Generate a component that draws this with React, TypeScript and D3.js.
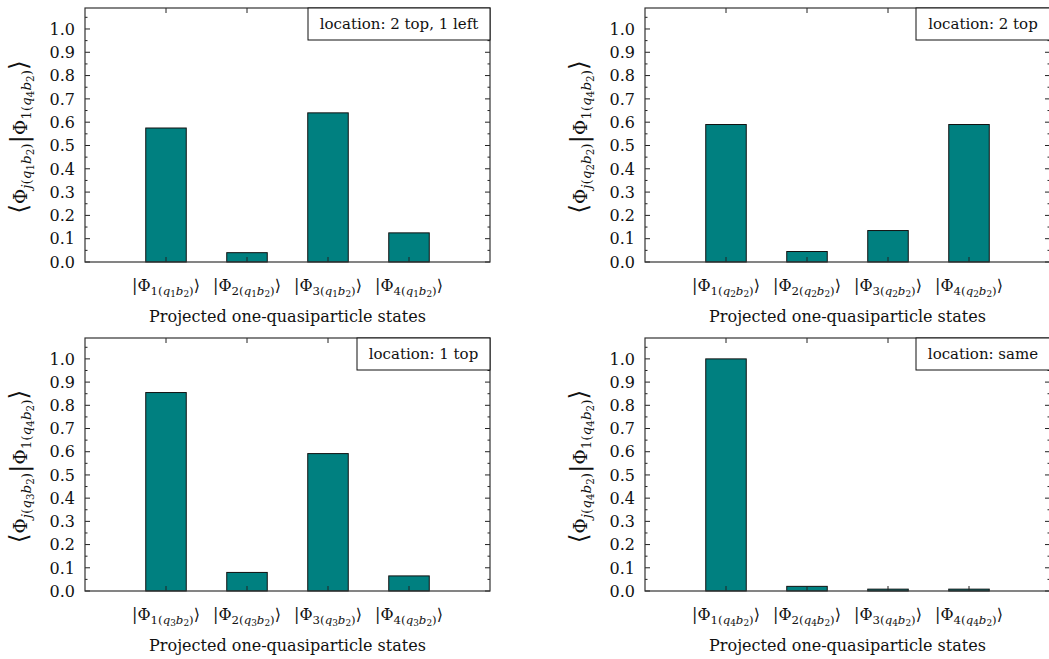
import React from "react";
import * as d3 from "d3";

const categories = [1, 2, 3, 4];
const qIndex = ["1", "2", "3", "4"];
const locations = ["location: 2 top, 1 left", "location: 2 top", "location: 1 top", "location: same"];
const valuesTL = [0.575, 0.04, 0.64, 0.125];
const valuesTR = [0.59, 0.045, 0.135, 0.59];
const valuesBL = [0.855, 0.08, 0.592, 0.065];
const valuesBR = [1.0, 0.02, 0.008, 0.008];
const seriesList = [valuesTL, valuesTR, valuesBL, valuesBR];
const yTicks = [0, 0.1, 0.2, 0.3, 0.4, 0.5, 0.6, 0.7, 0.8, 0.9, 1.0];
const yMinorTicks = d3.range(0.05, 1.09, 0.1);

const FONT = "DejaVu Serif";
const TEAL = "#008080";

type Seg = { t: string; lv: number; it?: boolean; big?: boolean };
const SIZES = [17, 12.5, 9.5];
const OFFS = [0, 4, 6.5];

function MathText({ segs, base = 17, ...rest }: { segs: Seg[]; base?: number; [k: string]: any }) {
  let cur = 0;
  const k = base / 17;
  return (
    <text {...rest} style={{ fontFamily: FONT }}>
      {segs.map((s, i) => {
        const dy = OFFS[s.lv] * k - cur;
        cur = OFFS[s.lv] * k;
        return (
          <tspan key={i} dy={dy} fontSize={SIZES[s.lv] * k * (s.big ? 1.35 : 1)} fontStyle={s.it ? "italic" : "normal"}>
            {s.t}
          </tspan>
        );
      })}
    </text>
  );
}

function ketSegs(n: number, q: string): Seg[] {
  return [
    { t: "|Φ", lv: 0 },
    { t: String(n) + "(", lv: 1 },
    { t: "q", lv: 1, it: true },
    { t: q, lv: 2 },
    { t: "b", lv: 1, it: true },
    { t: "2", lv: 2 },
    { t: ")", lv: 1 },
    { t: "⟩", lv: 0 },
  ];
}

function ylabelSegs(q: string): Seg[] {
  return [
    { t: "⟨", lv: 0, big: true },
    { t: "Φ", lv: 0 },
    { t: "j", lv: 1, it: true },
    { t: "(", lv: 1 },
    { t: "q", lv: 1, it: true },
    { t: q, lv: 2 },
    { t: "b", lv: 1, it: true },
    { t: "2", lv: 2 },
    { t: ")", lv: 1 },
    { t: "|", lv: 0, big: true },
    { t: "Φ", lv: 0 },
    { t: "1(", lv: 1 },
    { t: "q", lv: 1, it: true },
    { t: "4", lv: 2 },
    { t: "b", lv: 1, it: true },
    { t: "2", lv: 2 },
    { t: ")", lv: 1 },
    { t: "⟩", lv: 0, big: true },
  ];
}

function Panel({ x0, y0, w, h, values, q, loc, legW }: any) {
  const x = d3.scaleLinear().domain([0, 5]).range([0, w]);
  const y = d3.scaleLinear().domain([0, 1.09]).range([h, 0]);
  const bw = x(0.5) - x(0);
  const tickC = "#222";
  return (
    <g transform={`translate(${x0},${y0})`}>
      {values.map((v: number, i: number) => (
        <rect key={i} x={x(categories[i]) - bw / 2} y={y(v)} width={bw} height={h - y(v)} fill={TEAL} stroke="#111" strokeWidth={1} />
      ))}
      {yTicks.map((t) => (
        <g key={"y" + t}>
          <line x1={0} x2={5} y1={y(t)} y2={y(t)} stroke={tickC} />
          <line x1={w} x2={w - 5} y1={y(t)} y2={y(t)} stroke={tickC} />
          <text x={-10} y={y(t)} dy="0.36em" textAnchor="end" style={{ fontFamily: FONT }} fontSize={16} fill="#111">
            {t.toFixed(1)}
          </text>
        </g>
      ))}
      {yMinorTicks.map((t) => (
        <g key={"ym" + t}>
          <line x1={0} x2={2.5} y1={y(t)} y2={y(t)} stroke={tickC} />
          <line x1={w} x2={w - 2.5} y1={y(t)} y2={y(t)} stroke={tickC} />
        </g>
      ))}
      {categories.map((c) => (
        <g key={"x" + c}>
          <line x1={x(c)} x2={x(c)} y1={h} y2={h - 5} stroke={tickC} />
          <line x1={x(c)} x2={x(c)} y1={0} y2={5} stroke={tickC} />
          <MathText segs={ketSegs(c, q)} base={16} x={x(c)} y={h + 29} textAnchor="middle" fill="#111" />
        </g>
      ))}
      <rect x={0} y={0} width={w} height={h} fill="none" stroke="#333" strokeWidth={1.2} />
      <text x={w / 2} y={h + 60} textAnchor="middle" style={{ fontFamily: FONT }} fontSize={16} fill="#111">
        Projected one-quasiparticle states
      </text>
      <g transform={`translate(${-58},${h / 2 + 2}) rotate(-90)`}>
        <MathText segs={ylabelSegs(q)} base={18.5} x={0} y={0} textAnchor="middle" fill="#111" />
      </g>
      <rect x={w - legW} y={0} width={legW} height={32} fill="white" stroke="#111" strokeWidth={1} />
      <text x={w - legW / 2} y={21} textAnchor="middle" style={{ fontFamily: FONT }} fontSize={15} fill="#111">
        {loc}
      </text>
    </g>
  );
}

export default function App() {
  const positions = [
    [85, 8, 254],
    [645, 8, 254],
    [85, 338, 253],
    [645, 338, 253],
  ];
  const legWs = [182, 134, 133, 134];
  return (
    <svg width={1049} height={659} style={{ position: "absolute", left: 0, top: 0 }}>
      <rect width={1049} height={659} fill="white" />
      {positions.map((p, i) => (
        <Panel key={i} x0={p[0]} y0={p[1]} w={405} h={p[2]} values={seriesList[i]} q={qIndex[i]} loc={locations[i]} legW={legWs[i]} />
      ))}
    </svg>
  );
}
